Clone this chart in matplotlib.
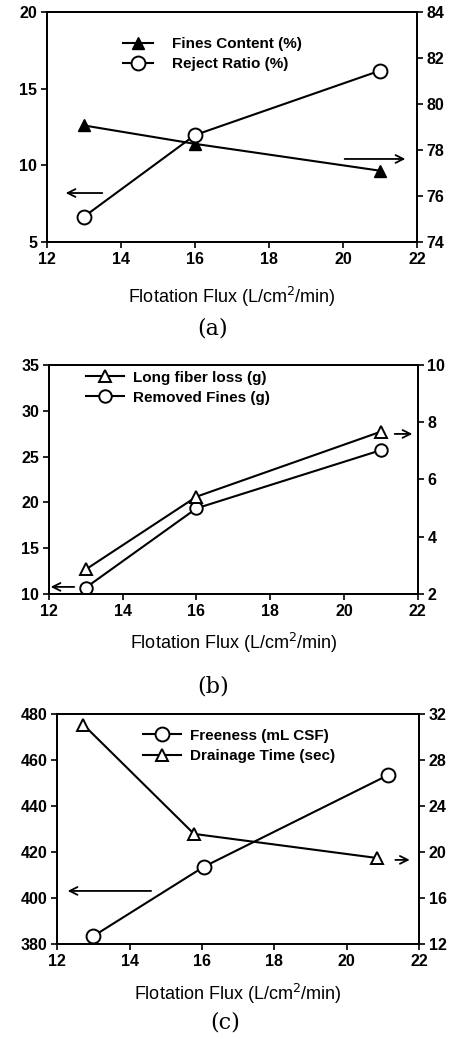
import matplotlib
matplotlib.use("Agg")
import matplotlib.pyplot as plt

plt.rcParams['font.family'] = ['Liberation Sans', 'DejaVu Sans']

W, H = 455, 1039

# ---- data ----
flux = [13, 16, 21]
fines_content = [12.6, 11.4, 9.65]          # left axis (a)
reject_ratio = [75.1, 78.65, 81.45]         # right axis (a)

removed_fines = [10.7, 19.35, 25.7]         # left axis (b)
long_fiber_loss = [2.86, 5.40, 7.67]        # right axis (b)

freeness_flux = [13.0, 16.05, 21.15]
freeness = [383.6, 413.7, 453.6]            # left axis (c)
drainage_flux = [12.72, 15.78, 20.85]
drainage_time = [31.1, 21.6, 19.5]          # right axis (c)

xticks = [12, 14, 16, 18, 20, 22]
xlabel_text = 'Flotation Flux (L/cm$^2$/min)'

fig = plt.figure(figsize=(W / 100, H / 100), dpi=100)

def px_axes(left, right, top, bottom):
    return fig.add_axes([left / W, 1 - bottom / H, (right - left) / W, (bottom - top) / H])

TICKFS = 11.5
LW = 1.5
LABFS = 13
LEGFS = 11

def style(ax, ax2, ylim, yticks, ylim2, yticks2):
    ax.set_xlim(12, 22)
    ax.set_xticks(xticks)
    ax.set_ylim(*ylim)
    ax.set_yticks(yticks)
    ax2.set_ylim(*ylim2)
    ax2.set_yticks(yticks2)
    for a in (ax, ax2):
        a.tick_params(direction='out', length=4, width=1.2, labelsize=TICKFS, pad=3)
        for lab in a.get_xticklabels() + a.get_yticklabels():
            lab.set_fontweight('bold')
        for s in a.spines.values():
            s.set_linewidth(1.3)

def arrow(ax, tail, head):
    ax.annotate('', xy=head, xytext=tail, xycoords='axes fraction', textcoords='axes fraction',
                arrowprops=dict(arrowstyle='->', lw=1.3, color='black', mutation_scale=14))

# ---------- (a) ----------
axA = px_axes(47, 417, 12, 242)
axA2 = axA.twinx()
l1, = axA.plot(flux, fines_content, '-^', color='black', mfc='black', ms=9, lw=LW, label='Fines Content (%)')
l2, = axA2.plot(flux, reject_ratio, '-o', color='black', mfc='white', ms=10, mew=1.4, lw=LW, label='Reject Ratio (%)')
style(axA, axA2, (5, 20), [5, 10, 15, 20], (74, 84), [74, 76, 78, 80, 82, 84])
axA.set_xlabel(xlabel_text, fontsize=LABFS, labelpad=13)
axA2.legend([l1, l2], [l1.get_label(), l2.get_label()], loc='upper left',
            bbox_to_anchor=(0.205, 0.89), frameon=False, numpoints=1,
            handlelength=2.0, handletextpad=1.2, labelspacing=0.38, borderpad=0, borderaxespad=0,
            prop={'weight': 'bold', 'size': LEGFS})
arrow(axA, (0.157, 0.213), (0.043, 0.213))
arrow(axA, (0.797, 0.361), (0.976, 0.361))
fig.text(213 / W, 1 - 328 / H, '(a)', family='DejaVu Serif', fontsize=16, ha='center', va='center')

# ---------- (b) ----------
axB = px_axes(49, 417.7, 365, 594)
axB2 = axB.twinx()
m1, = axB2.plot(flux, long_fiber_loss, '-^', color='black', mfc='white', ms=9, mew=1.4, lw=LW, label='Long fiber loss (g)')
m2, = axB.plot(flux, removed_fines, '-o', color='black', mfc='white', ms=9, mew=1.4, lw=LW, label='Removed Fines (g)')
style(axB, axB2, (10, 35), [10, 15, 20, 25, 30, 35], (2, 10), [2, 4, 6, 8, 10])
axB.set_xlabel(xlabel_text, fontsize=LABFS, labelpad=9)
axB2.legend([m1, m2], [m1.get_label(), m2.get_label()], loc='upper left',
            bbox_to_anchor=(0.10, 0.975), frameon=False, numpoints=1,
            handlelength=2.5, handletextpad=0.6, labelspacing=0.4, borderpad=0, borderaxespad=0,
            prop={'weight': 'bold', 'size': LEGFS})
arrow(axB, (0.076, 0.031), (-0.003, 0.031))
arrow(axB, (0.930, 0.699), (0.993, 0.699))
fig.text(213 / W, 1 - 686 / H, '(b)', family='DejaVu Serif', fontsize=16, ha='center', va='center')

# ---------- (c) ----------
axC = px_axes(57.3, 419, 714.3, 944.3)
axC2 = axC.twinx()
n1, = axC.plot(freeness_flux, freeness, '-o', color='black', mfc='white', ms=10, mew=1.4, lw=LW, label='Freeness (mL CSF)')
n2, = axC2.plot(drainage_flux, drainage_time, '-^', color='black', mfc='white', ms=9, mew=1.4, lw=LW, label='Drainage Time (sec)')
style(axC, axC2, (380, 480), [380, 400, 420, 440, 460, 480], (12, 32), [12, 16, 20, 24, 28, 32])
axC.set_xlabel(xlabel_text, fontsize=LABFS, labelpad=9)
axC2.legend([n1, n2], [n1.get_label(), n2.get_label()], loc='upper left',
            bbox_to_anchor=(0.237, 0.937), frameon=False, numpoints=1,
            handlelength=2.5, handletextpad=0.6, labelspacing=0.4, borderpad=0, borderaxespad=0,
            prop={'weight': 'bold', 'size': LEGFS})
arrow(axC, (0.267, 0.232), (0.021, 0.232))
arrow(axC, (0.927, 0.367), (0.982, 0.367))
fig.text(225 / W, 1 - 1022 / H, '(c)', family='DejaVu Serif', fontsize=16, ha='center', va='center')

fig.savefig('out.png', dpi=100)
